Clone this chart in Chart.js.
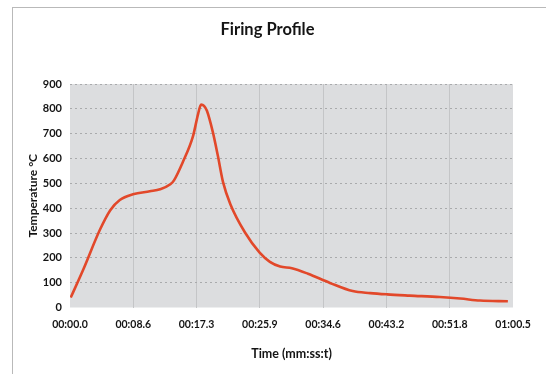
<!DOCTYPE html>
<html>
<head>
<meta charset="utf-8">
<script src="https://cdn.jsdelivr.net/npm/chart.js@4"></script>
<style>
  html, body { margin: 0; padding: 0; background: #fff; }
  #wrap { position: relative; width: 546px; height: 374px; }
  #frame { position: absolute; left: 12px; top: 7px; right: 0; bottom: 0; border-top: 1px solid #b9b9b9; border-left: 1px solid #b9b9b9; }
  #chart { position: absolute; left: 0; top: 0; }
</style>
</head>
<body>
<div id="wrap">
  <div id="frame"></div>
  <canvas id="chart" width="546" height="374"></canvas>
</div>
<script>
// time in seconds, temperature in °C
const timeSec = [0.1, 1.8, 4.1, 5.5, 6.8, 8.6, 10.9, 12.3, 13.7, 14.2, 15.4, 16.8, 17.5, 17.9, 18.3, 18.7, 19.5, 20.2, 20.9, 21.9, 23.9, 25.9, 27.3, 28.7, 30.3, 32.5, 35.5, 38.6, 41.0, 43.3, 46.4, 50.5, 53.3, 56.0, 59.8];
const tempC = [40, 152, 314, 392, 433, 456, 468, 476, 496, 512, 585, 690, 780, 817, 812, 792, 707, 610, 505, 416, 302, 221, 184, 165, 158, 136, 99, 66, 58, 53, 48, 42, 36, 28, 25];

const tickTimes = [0, 8.64, 17.29, 25.93, 34.57, 43.21, 51.86, 60.5];
const tickLabels = ['00:00.0', '00:08.6', '00:17.3', '00:25.9', '00:34.6', '00:43.2', '00:51.8', '01:00.5'];

const fontFamily = 'Lato, "Open Sans", sans-serif';
const textColor = '#141414';

const plotBg = {
    id: 'plotBg',
    beforeDraw(chart) {
        const a = chart.chartArea;
        const ctx = chart.ctx;
        ctx.save();
        ctx.fillStyle = '#dcdddf';
        ctx.fillRect(a.left, a.top, a.right - a.left, a.bottom - a.top);
        ctx.restore();
    }
};

new Chart(document.getElementById('chart'), {
    type: 'line',
    data: {
        datasets: [{
            data: timeSec.map((t, i) => ({ x: t, y: tempC[i] })),
            borderColor: '#e2482a',
            borderWidth: 2.6,
            pointRadius: 0,
            cubicInterpolationMode: 'monotone',
            fill: false
        }]
    },
    options: {
        responsive: false,
        animation: false,
        layout: { padding: { left: 22, right: 33, top: 0, bottom: 0 } },
        plugins: {
            legend: { display: false },
            tooltip: { enabled: false },
            title: {
                display: true,
                text: 'Firing Profile',
                color: textColor,
                font: { family: fontFamily, size: 16.5, weight: 'bold', lineHeight: 1.2 },
                padding: { top: 20, bottom: 44.2 }
            }
        },
        scales: {
            x: {
                type: 'linear',
                min: 0,
                max: 60.5,
                afterBuildTicks(scale) {
                    scale.ticks = tickTimes.map(v => ({ value: v }));
                },
                afterFit(scale) { scale.height = 66.5; },
                grid: {
                    color: ctx => (ctx.index === 0 || ctx.index === tickTimes.length - 1) ? 'rgba(0,0,0,0)' : '#c4c5c7',
                    lineWidth: 1,
                    drawTicks: false
                },
                border: { display: false },
                ticks: {
                    autoSkip: false,
                    maxRotation: 0,
                    padding: 11,
                    color: textColor,
                    font: { family: fontFamily, size: 10.5, weight: 'bold' },
                    callback: (v, i) => tickLabels[i]
                },
                title: {
                    display: true,
                    text: 'Time (mm:ss:t)',
                    color: textColor,
                    font: { family: fontFamily, size: 12.5, weight: 'bold', lineHeight: 1.2 },
                    padding: { top: 0, bottom: 12.5 }
                }
            },
            y: {
                min: 0,
                max: 900,
                afterFit(scale) { scale.width = 48; },
                grid: {
                    color: ctx => ctx.index === 0 ? 'rgba(0,0,0,0)' : '#a9aaac',
                    lineWidth: 1,
                    drawTicks: false
                },
                border: { display: false, dash: [2, 3] },
                ticks: {
                    stepSize: 100,
                    padding: 8,
                    color: textColor,
                    font: { family: fontFamily, size: 11, weight: 'bold' }
                },
                title: {
                    display: true,
                    text: 'Temperature °C',
                    color: textColor,
                    font: { family: fontFamily, size: 12, weight: 'bold', lineHeight: 1.2 },
                    padding: { top: 4, bottom: 0 }
                }
            }
        }
    },
    plugins: [plotBg]
});
</script>
</body>
</html>
